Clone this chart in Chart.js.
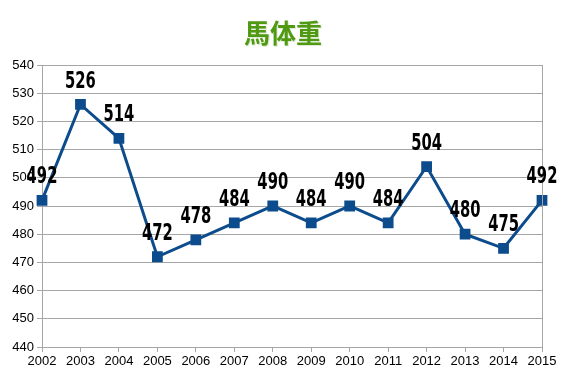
<!DOCTYPE html>
<html>
<head>
<meta charset="utf-8">
<script src="https://cdn.jsdelivr.net/npm/chart.js@4/dist/chart.umd.min.js"></script>
<style>
  html, body { margin: 0; padding: 0; background: #fff; }
  #wrap { width: 567px; height: 378px; }
</style>
</head>
<body>
<div id="wrap"><canvas id="weight-chart" width="567" height="378"></canvas></div>
<script>
// data
const chartTitle = '馬体重';
const years = ['2002', '2003', '2004', '2005', '2006', '2007', '2008', '2009', '2010', '2011', '2012', '2013', '2014', '2015'];
const weights = [492, 526, 514, 472, 478, 484, 490, 484, 490, 484, 504, 480, 475, 492];
const yMin = 440;
const yMax = 540;
const yStep = 10;

// title + point labels + right border
const extras = {
  id: 'extras',
  afterDraw(chart) {
    const { ctx, chartArea } = chart;
    ctx.save();
    ctx.strokeStyle = '#a6a6a6';
    ctx.lineWidth = 1;
    ctx.beginPath();
    ctx.moveTo(chartArea.right + 0.5, chartArea.top);
    ctx.lineTo(chartArea.right + 0.5, chartArea.bottom + 5);
    ctx.stroke();

    ctx.textAlign = 'center';
    ctx.textBaseline = 'middle';
    ctx.font = 'bold 26px "Noto Sans CJK JP"';
    ctx.fillStyle = '#dfe9d4';
    ctx.fillText(chartTitle, 284, 34);
    ctx.fillStyle = '#4f9a12';
    ctx.fillText(chartTitle, 283, 33);

    // condensed, tall labels (impact-like look)
    const meta = chart.getDatasetMeta(0);
    ctx.font = 'bold 18px "DejaVu Sans", sans-serif';
    ctx.fillStyle = '#000';
    meta.data.forEach((pt, i) => {
      ctx.save();
      ctx.translate(pt.x, pt.y - 23);
      ctx.scale(0.82, 1.3);
      ctx.fillText(String(weights[i]), 0, 0);
      ctx.restore();
    });
    ctx.restore();
  }
};

new Chart(document.getElementById('weight-chart'), {
  type: 'line',
  data: {
    labels: years,
    datasets: [{
      data: weights,
      borderColor: '#0d4c8c',
      backgroundColor: '#0d4c8c',
      borderWidth: 3,
      pointStyle: 'rect',
      pointRadius: 5.5,
      pointHoverRadius: 5.5,
      tension: 0
    }]
  },
  options: {
    responsive: false,
    animation: false,
    layout: { padding: { top: 65, right: 25, bottom: 6, left: 0 } },
    plugins: { legend: { display: false }, tooltip: { enabled: false } },
    scales: {
      x: {
        offset: false,
        afterFit(scale) { scale.height = 25; },
        grid: { drawOnChartArea: false, drawTicks: true, tickLength: 5, color: '#a6a6a6' },
        border: { color: '#a6a6a6' },
        ticks: { color: '#000', font: { family: 'Liberation Sans', size: 13 }, padding: 2, maxRotation: 0, autoSkip: false }
      },
      y: {
        min: yMin,
        max: yMax,
        afterFit(scale) { scale.width = 42; },
        grid: { color: '#a6a6a6', tickLength: 5 },
        border: { color: '#a6a6a6' },
        ticks: { stepSize: yStep, color: '#000', font: { family: 'Liberation Sans', size: 13 }, padding: 3 }
      }
    }
  },
  plugins: [extras]
});
</script>
</body>
</html>
